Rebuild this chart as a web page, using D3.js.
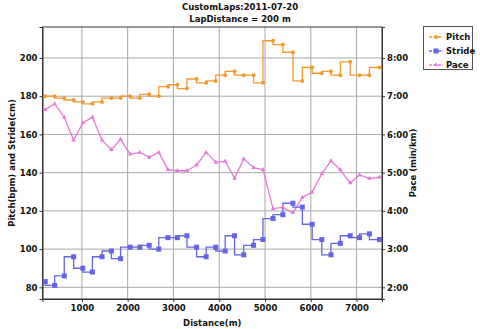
<!DOCTYPE html>
<html><head><meta charset="utf-8">
<script src="https://cdn.jsdelivr.net/npm/d3@7"></script>
<style>
html,body{margin:0;padding:0;background:#fff;}
text{font-family:"DejaVu Sans",sans-serif;font-weight:bold;}
</style></head>
<body><svg id="c" width="480" height="329"></svg>
<script>
const titleLines = ["CustomLaps:2011-07-20", "LapDistance = 200 m"];
const distance = [200,405,615,820,1020,1230,1440,1645,1845,2055,2265,2470,2680,2880,3085,3295,3505,3715,3925,4130,4335,4535,4750,4955,5175,5390,5610,5815,6030,6240,6440,6645,6860,7065,7280,7500];
const pitch = [180,180,179,178,177,176,177,179,179,180,179,181,180,185,186,184,189,187,188,191,193,191,191,187,209,207,203,188,195,192,193,191,198,191,191,195];
const stride = [83,81,86,96,90,88,96,99,95,101,101,102,100,106,106,107,101,96,101,99,107,97,102,105,116,118,124,122,113,105,97,103,107,106,108,105];
// pace in minutes per km
const pace = [6.65,6.80,6.45,5.85,6.30,6.45,5.85,5.60,5.87,5.48,5.53,5.40,5.53,5.08,5.05,5.05,5.20,5.53,5.27,5.30,4.85,5.36,5.13,5.08,4.06,4.09,3.95,4.35,4.49,4.97,5.31,5.07,4.73,4.94,4.85,4.88];
const xTicks = [1000,2000,3000,4000,5000,6000,7000];
const yTicks = [80,100,120,140,160,180,200];
const paceTicks = [2,3,4,5,6,7,8];
const seriesNames = ["Pitch","Stride","Pace"];
const colors = {Pitch:"#f39a2e", Stride:"#6464e4", Pace:"#e57ad6"};

const svg = d3.select("#c");
const L=42.5, R=382, T=27, B=299;
const x = d3.scaleLinear().domain([140,7555]).range([L,R]);
const y = d3.scaleLinear().domain([73.9,216.2]).range([B,T]);
const yp = d3.scaleLinear().domain([1.695,8.81]).range([B,T]);

// grid
const g = svg.append("g");
g.selectAll(".vg").data(xTicks).join("line")
 .attr("x1",d=>x(d)).attr("x2",d=>x(d)).attr("y1",T).attr("y2",B)
 .attr("stroke","#a8a8a8").attr("stroke-width",1);
g.selectAll(".hg").data(yTicks).join("line")
 .attr("y1",d=>y(d)).attr("y2",d=>y(d)).attr("x1",L).attr("x2",R)
 .attr("stroke","#a8a8a8").attr("stroke-width",1);

// plot frame
svg.append("rect").attr("x",L).attr("y",T).attr("width",R-L).attr("height",B-T)
 .attr("fill","none").attr("stroke","#333").attr("stroke-width",1);

// axes
const fs = "8.5px";
const xa = svg.append("g").attr("transform",`translate(0,${B})`)
 .call(d3.axisBottom(x).tickValues(xTicks).tickSize(3).tickPadding(3).tickFormat(d3.format("d")));
const ya = svg.append("g").attr("transform",`translate(${L},0)`)
 .call(d3.axisLeft(y).tickValues(yTicks).tickSize(3).tickPadding(2));
const yr = svg.append("g").attr("transform",`translate(${R},0)`)
 .call(d3.axisRight(yp).tickValues(paceTicks).tickSize(3).tickPadding(2).tickFormat(d=>d+":00"));
[xa,ya,yr].forEach(a=>{
  a.selectAll("text").style("font-size",fs).attr("fill","#111");
  a.selectAll("line").attr("stroke","#333");
  a.select(".domain").attr("stroke","#333");
});

// series
const idx = d3.range(distance.length);
function drawLine(vals, scale, curve, color){
  const line = d3.line().x(i=>x(distance[i])).y(i=>scale(vals[i])).curve(curve);
  svg.append("path").datum(idx).attr("d",line).attr("fill","none")
   .attr("stroke",color).attr("stroke-width",1.3);
}
drawLine(pace, yp, d3.curveLinear, colors.Pace);
drawLine(stride, y, d3.curveStepBefore, colors.Stride);
drawLine(pitch, y, d3.curveStepBefore, colors.Pitch);

const tri = d3.symbol().type(d3.symbolTriangle).size(9);
svg.append("g").selectAll("path").data(idx).join("path")
 .attr("d",tri).attr("transform",i=>`translate(${x(distance[i])},${yp(pace[i])})`)
 .attr("fill",colors.Pace);
svg.append("g").selectAll("rect").data(idx).join("rect")
 .attr("x",i=>x(distance[i])-2.5).attr("y",i=>y(stride[i])-2.5)
 .attr("width",5).attr("height",5).attr("fill",colors.Stride);
svg.append("g").selectAll("circle").data(idx).join("circle")
 .attr("cx",i=>x(distance[i])).attr("cy",i=>y(pitch[i])).attr("r",2)
 .attr("fill",colors.Pitch);

// titles
svg.selectAll(".title").data(titleLines).join("text")
 .attr("x",240).attr("y",(d,i)=>10+i*12).attr("text-anchor","middle")
 .style("font-size","8.5px").attr("fill","#111").text(d=>d);
svg.append("text").attr("x",(L+R)/2).attr("y",326).attr("text-anchor","middle")
 .style("font-size","8.5px").attr("fill","#111").text("Distance(m)");
svg.append("text").attr("transform",`translate(15,${(T+B)/2}) rotate(-90)`)
 .attr("text-anchor","middle").style("font-size","8.5px").attr("fill","#111")
 .text("Pitch(bpm) and Stride(cm)");
svg.append("text").attr("transform",`translate(416,${(T+B)/2}) rotate(-90)`)
 .attr("text-anchor","middle").style("font-size","8.5px").attr("fill","#111")
 .text("Pace (min/km)");

// legend
const lg = svg.append("g");
lg.append("rect").attr("x",423.5).attr("y",26.5).attr("width",49).attr("height",43)
 .attr("fill","#fff").attr("stroke","#555").attr("stroke-width",1);
const items = lg.selectAll("g").data(seriesNames).join("g")
 .attr("transform",(d,i)=>`translate(0,${37+i*14})`);
items.append("line").attr("x1",429).attr("x2",443).attr("y1",0).attr("y2",0)
 .attr("stroke",d=>colors[d]).attr("stroke-width",1.3).attr("stroke-dasharray","3,1.5");
items.each(function(d){
  const s=d3.select(this);
  if(d==="Pitch") s.append("circle").attr("cx",436).attr("cy",0).attr("r",2).attr("fill",colors[d]);
  else if(d==="Stride") s.append("rect").attr("x",433.5).attr("y",-2.5).attr("width",5).attr("height",5).attr("fill",colors[d]);
  else s.append("path").attr("d",tri).attr("transform","translate(436,0)").attr("fill",colors[d]);
});
items.append("text").attr("x",446).attr("y",3).style("font-size","8.5px").attr("fill","#111").text(d=>d);
</script></body></html>
